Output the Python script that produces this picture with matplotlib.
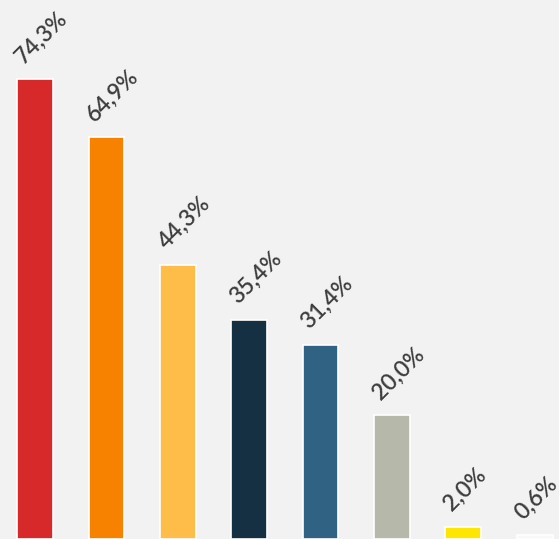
import matplotlib
matplotlib.use("Agg")
import matplotlib.pyplot as plt
import numpy as np

# values (percent)
values = [74.3, 64.9, 44.3, 35.4, 31.4, 20.0, 2.0, 0.6]
labels = ["74,3%", "64,9%", "44,3%", "35,4%", "31,4%", "20,0%", "2,0%", "0,6%"]
colors = ["#d7282a", "#f78200", "#fdbd48", "#143042", "#2f6283", "#b6b8aa", "#ffe600", "#f8f8f8"]

bg = "#f2f2f2"

fig = plt.figure(figsize=(5.59, 5.39), dpi=100, facecolor=bg)
ax = fig.add_axes([0, 0, 1, 1], facecolor=bg)

x = np.arange(len(values))
bar_w = 0.5
ax.bar(x, values, width=bar_w, color=colors, edgecolor="white", linewidth=1.2)

# rotated value labels above each bar
for xi, v, lab in zip(x, values, labels):
    ax.text(xi - bar_w / 2 + 0.09, v + 2.4, lab, rotation=45, rotation_mode="anchor",
            ha="left", va="baseline", fontsize=16.5, family="Lato", fontweight="semibold",
            color="#3d3d3d")

ax.set_xlim(-0.49, 7.34)
ax.set_ylim(0, 87.1)
ax.axis("off")

fig.savefig("out.png", dpi=100, facecolor=bg)
